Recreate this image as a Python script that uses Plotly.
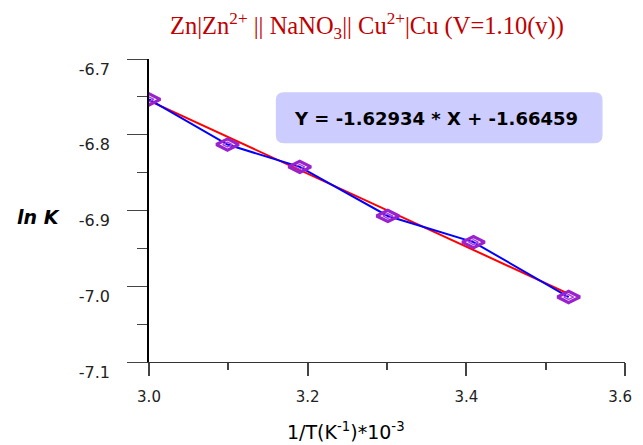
import plotly.graph_objects as go

# Data
inv_T = [3.000, 3.099, 3.190, 3.301, 3.409, 3.529]
ln_K = [-6.7533, -6.8129, -6.8424, -6.9072, -6.9418, -7.0142]

# Regression line endpoints (as drawn)
fit_x = [3.000, 3.527]
fit_y = [-6.755, -7.009]

x_ticks = [3.0, 3.2, 3.4, 3.6]
x_tick_text = ["3.0", "3.2", "3.4", "3.6\u00a0\u00a0"]
y_ticks = [-7.1, -7.0, -6.9, -6.8, -6.7]
y_tick_text = ["-7.1", "-7.0", "-6.9", "-6.8", "-6.7"]

title_text = "Zn|Zn<sup>2+</sup> || NaNO<sub>3</sub>|| Cu<sup>2+</sup>|Cu (V=1.10(v))"
eq_text = "Y = -1.62934 * X + -1.66459"
x_title = "1/T(K<sup>-1</sup>)*10<sup>-3</sup>"
y_title = "<b><i>ln K</i></b>"

fig = go.Figure()
fig.add_trace(go.Scatter(x=fit_x, y=fit_y, mode="lines",
                         line=dict(color="#ff0000", width=2), showlegend=False))
fig.add_trace(go.Scatter(x=inv_T, y=ln_K, mode="lines",
                         line=dict(color="#0000ff", width=2), showlegend=False))
fig.add_trace(go.Scatter(x=inv_T, y=ln_K, mode="markers",
                         marker=dict(symbol="diamond-wide-open", size=16,
                                     color="#9922cc", line=dict(width=3.2, color="#9922cc")),
                         showlegend=False))
fig.add_trace(go.Scatter(x=inv_T, y=ln_K, mode="markers",
                         marker=dict(symbol="diamond-wide-open", size=7,
                                     color="#a83ce0", line=dict(width=1.4, color="#a83ce0")),
                         showlegend=False))

# rounded box for equation (paper coords)
x0, x1, y0, y1 = 0.2665, 0.9528, 0.722, 0.890
rx, ry = 0.0168, 0.0263
path = (f"M {x0+rx},{y1} L {x1-rx},{y1} Q {x1},{y1} {x1},{y1-ry} "
        f"L {x1},{y0+ry} Q {x1},{y0} {x1-rx},{y0} L {x0+rx},{y0} "
        f"Q {x0},{y0} {x0},{y0+ry} L {x0},{y1-ry} Q {x0},{y1} {x0+rx},{y1} Z")
fig.add_shape(type="path", path=path, xref="paper", yref="paper",
              fillcolor="#ccccff", line=dict(width=0), layer="below")

fig.add_annotation(text=eq_text, xref="paper", yref="paper", x=0.602, y=0.804,
                   showarrow=False, xanchor="center", yanchor="middle",
                   font=dict(family="DejaVu Sans", size=18, color="#000000", weight="bold"))
fig.add_annotation(text=title_text, xref="paper", yref="paper", x=0.4575, y=1.110,
                   showarrow=False, xanchor="center", yanchor="middle",
                   font=dict(family="Liberation Serif", size=24.5, color="#c00000"))
fig.add_annotation(text=y_title, xref="paper", yref="paper", x=-0.233, y=0.479,
                   showarrow=False, xanchor="center", yanchor="middle",
                   font=dict(family="DejaVu Sans", size=19, color="#000000"))
fig.add_annotation(text=x_title, xref="paper", yref="paper", x=0.413, y=-0.229,
                   showarrow=False, xanchor="center", yanchor="middle",
                   font=dict(family="DejaVu Sans", size=19, color="#000000"))

fig.update_xaxes(range=[3.0, 3.6], tickvals=x_ticks, ticktext=x_tick_text,
                 showgrid=False, zeroline=False, automargin=False,
                 showline=True, linecolor="#333333", linewidth=1,
                 ticks="outside", ticklen=13, tickcolor="#444444", tickwidth=1.5,
                 minor=dict(dtick=0.1, ticks="outside", ticklen=7, tickcolor="#444444", tickwidth=1.5),
                 ticklabelstandoff=8,
                 tickfont=dict(family="DejaVu Sans", size=15, color="#222222"))
fig.update_yaxes(range=[-7.1, -6.7], tickvals=y_ticks, ticktext=y_tick_text,
                 showgrid=False, zeroline=False, automargin=False,
                 showline=True, linecolor="#000000", linewidth=1.5,
                 ticks="outside", ticklen=20, tickcolor="#444444", tickwidth=1,
                 minor=dict(dtick=0.05, ticks="outside", ticklen=10, tickcolor="#444444", tickwidth=1),
                 ticklabelstandoff=14, ticklabelshift=10,
                 tickfont=dict(family="DejaVu Sans", size=16, color="#222222"))

# page body has an 8px default margin: size the figure to fit the window
fig.update_layout(width=635, height=437, autosize=False,
                  margin=dict(l=141, r=17.5, t=50.5, b=82.5, autoexpand=False),
                  paper_bgcolor="white", plot_bgcolor="white", showlegend=False)

fig.write_html("out.html")
